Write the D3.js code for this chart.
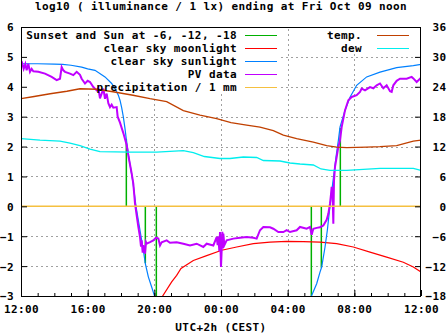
<!DOCTYPE html>
<html><head><meta charset="utf-8">
<script src="https://cdn.jsdelivr.net/npm/d3@7"></script>
<style>
html,body{margin:0;padding:0;background:#fff;}
svg{display:block;}
text{font-family:"DejaVu Sans Mono","Liberation Mono",monospace;font-weight:bold;font-size:11px;letter-spacing:0.4px;fill:#000;}
</style></head><body>
<svg id="c" width="447" height="335"></svg>
<script>
// ---------- data ----------
const title = "log10 ( illuminance / 1 lx) ending at Fri Oct 09 noon";
const xLabel = "UTC+2h (CEST)";
const hourTicks = [0, 4, 8, 12, 16, 20, 24];
const hourTickLabels = ["12:00", "16:00", "20:00", "00:00", "04:00", "08:00", "12:00"];
const leftTicks = [-3, -2, -1, 0, 1, 2, 3, 4, 5, 6];
const rightTicks = [-18, -12, -6, 0, 6, 12, 18, 24, 30, 36];

// hours after 12:00 ; sun altitude events (sunset, -6, -12, -18, -18, -12, -6, sunrise)
const sunEventHours = [6.32, 6.88, 7.46, 8.12, 17.42, 18.02, 18.56, 19.16];
const sunEventLevels = [2.25, 0.02, -1.9, -3.5, -3.5, -2.05, 0.05, 2.62];

const moonHours = [8.3, 8.5, 9.04, 9.34, 9.6, 10.34, 11.14, 12.04, 12.94, 13.94, 14.94, 15.94, 16.94, 17.94, 18.94, 19.94, 20.94, 21.94, 22.94, 23.54, 24];
const moonValues = [-3.3, -3.0, -2.53, -2.31, -2.08, -1.81, -1.65, -1.47, -1.36, -1.25, -1.2, -1.17, -1.18, -1.2, -1.25, -1.36, -1.53, -1.7, -1.87, -2.03, -2.2];

const sunHours = [0, 1, 2, 2.5, 3.0, 3.64, 4.0, 4.44, 5.04, 5.44, 5.64, 5.84, 5.94, 6.04, 6.14, 6.24, 6.34, 6.5, 6.7, 6.9, 7.14, 7.34, 7.46, 7.64, 7.84, 8.0, 8.2,
  17.3, 17.44, 17.74, 17.94, 18.04, 18.24, 18.38, 18.5, 18.58, 18.7, 18.8, 18.9, 19.04, 19.14, 19.44, 19.74, 20.14, 20.74, 21.54, 22.54, 23.54, 24];
const sunValues = [4.77, 4.77, 4.76, 4.75, 4.72, 4.66, 4.6, 4.55, 4.33, 4.11, 3.94, 3.72, 3.55, 3.3, 2.99, 2.6, 2.15, 1.54, 0.87, 0.0, -0.8, -1.47, -1.92, -2.36, -2.7, -2.98, -3.3,
  -3.3, -2.98, -2.59, -2.2, -2.03, -1.37, -0.8, -0.19, 0.2, 0.76, 1.2, 1.65, 2.2, 2.65, 3.21, 3.65, 4.05, 4.33, 4.49, 4.64, 4.71, 4.75];

const pvHours = [0.0, 0.08, 0.16, 0.26, 0.34, 0.44, 0.54, 0.64, 0.74, 1.04, 1.44, 1.84, 2.14, 2.34, 2.44, 2.54, 2.64, 2.94, 3.14, 3.34, 3.54, 3.64, 3.84, 4.0, 4.14, 4.34, 4.54, 4.64, 4.74, 4.84, 4.94, 5.04, 5.14, 5.24, 5.34, 5.44, 5.54, 5.74, 5.8, 5.94, 6.14, 6.34, 6.44, 6.54, 6.64, 6.74, 6.84, 6.94, 7.04, 7.14, 7.2, 7.24, 7.3, 7.34, 7.44, 7.5, 7.54, 7.74, 7.94, 8.1, 8.24, 8.34, 8.44, 8.74, 8.94, 9.34, 9.74, 10.14, 10.54, 10.94, 11.14, 11.54, 11.74, 11.8, 11.84, 11.9, 11.94, 11.98, 12.0, 12.04, 12.08, 12.1, 12.14, 12.2, 12.34, 12.74, 13.14, 13.54, 13.94, 14.14, 14.34, 14.54, 14.94, 15.14, 15.44, 15.74, 15.94, 16.14, 16.54, 16.74, 17.14, 17.34, 17.44, 17.54, 17.74, 17.94, 18.14, 18.34, 18.44, 18.54, 18.6, 18.64, 18.7, 18.74, 18.78, 18.84, 18.94, 19.04, 19.14, 19.24, 19.44, 19.64, 19.84, 20.14, 20.34, 20.44, 20.64, 20.94, 21.14, 21.34, 21.54, 21.74, 21.94, 22.14, 22.24, 22.34, 22.54, 22.74, 23.14, 23.44, 23.54, 23.74, 23.94, 24];
const pvValues = [4.66, 4.77, 4.6, 4.76, 4.55, 4.77, 4.5, 4.6, 4.52, 4.5, 4.44, 4.33, 4.22, 4.27, 4.66, 4.55, 4.5, 4.44, 4.39, 4.5, 4.4, 4.27, 4.11, 4.2, 4.16, 3.99, 3.88, 3.95, 3.61, 3.77, 3.94, 3.6, 3.77, 3.45, 3.32, 3.4, 3.3, 3.32, 3.0, 2.8, 2.45, 2.05, 1.7, 1.4, 1.1, 0.75, 0.1, -0.3, -0.69, -1.03, -1.35, -1.14, -1.55, -1.3, -1.58, -1.2, -1.25, -1.2, -1.14, -1.05, -1.08, -1.31, -1.2, -1.14, -1.22, -1.2, -1.25, -1.31, -1.25, -1.36, -1.25, -1.31, -1.03, -1.3, -1.0, -1.5, -0.86, -1.6, -2.03, -1.47, -0.85, -1.4, -0.91, -1.3, -1.14, -1.08, -1.05, -1.03, -1.05, -1.08, -0.8, -0.69, -0.7, -0.75, -0.86, -0.86, -0.8, -0.86, -0.8, -0.69, -0.75, -0.69, -0.95, -0.75, -0.72, -0.7, -0.64, -0.45, -0.25, 0.09, 0.4, 0.65, 0.3, -0.58, 0.87, 1.32, 1.65, 1.99, 2.21, 2.65, 3.21, 3.55, 3.66, 3.72, 3.83, 3.94, 3.88, 3.99, 3.95, 4.05, 4.11, 3.95, 4.05, 3.85, 3.83, 4.05, 4.2, 4.27, 4.27, 4.33, 4.28, 4.16, 4.27, 4.3];

const precipHours = [0, 1, 2, 3, 4, 5, 6, 7, 8, 9, 10, 11, 12, 13, 14, 15, 16, 17, 18, 19, 20, 21, 22, 23, 24];
const precipValues = [0, 0, 0, 0, 0, 0, 0, 0, 0, 0, 0, 0, 0, 0, 0, 0, 0, 0, 0, 0, 0, 0, 0, 0, 0];

// temperatures in degC (right axis)
const tempHours = [0, 0.7, 1.75, 2.75, 3.54, 4.54, 5.52, 6.72, 7.74, 8.74, 9.74, 10.74, 11.74, 12.6, 13.54, 14.34, 15.14, 15.74, 16.54, 17.54, 18.34, 18.94, 19.54, 20.74, 21.54, 22.54, 23.54, 24];
const tempValues = [21.6, 22.0, 22.6, 23.1, 23.6, 23.5, 23.0, 22.3, 21.6, 21.0, 19.2, 18.3, 17.6, 16.8, 16.3, 15.9, 15.2, 14.3, 13.6, 12.9, 12.2, 11.9, 11.8, 11.9, 12.0, 12.2, 13.1, 13.3];
const dewHours = [0, 1.14, 2.34, 2.94, 3.54, 4.14, 4.74, 6.54, 8.14, 9.74, 10.34, 11.0, 11.94, 12.54, 13.34, 14.14, 14.54, 15.54, 16.14, 16.74, 17.54, 18.0, 18.54, 19.54, 20.54, 21.54, 22.54, 23.54, 24];
const dewValues = [13.6, 13.3, 13.1, 12.7, 12.2, 11.5, 11.0, 10.9, 10.9, 11.2, 10.8, 10.0, 9.6, 9.6, 9.9, 9.8, 9.2, 9.1, 8.7, 8.5, 8.3, 7.5, 7.2, 7.2, 7.4, 7.6, 7.6, 7.6, 7.2];

const keyLeftNames = ["Sunset and Sun at -6, -12, -18", "clear sky moonlight", "clear sky sunlight", "PV data", "precipitation / 1 mm"];
const keyLeftColors = ["#00b000", "#ff0000", "#0080ff", "#c000ff", "#f5c040"];
const keyRightNames = ["temp.", "dew"];
const keyRightColors = ["#c04000", "#00eeee"];

// ---------- drawing ----------
const svg = d3.select("#c");
const L = 21, R = 421, T = 27, B = 296;
const x = d3.scaleLinear().domain([0, 24]).range([L, R]);
const y = d3.scaleLinear().domain([-3, 6]).range([B, T]);
const y2 = d3.scaleLinear().domain([-18, 36]).range([B, T]);

// key boxes where grid is not drawn
const keyBoxes = [{x0: L, x1: 281, y0: T, y1: 93}, {x0: 322, x1: R, y0: T, y1: 53}];

function segs(a, b, fixed, vertical) {
  let parts = [[a, b]];
  keyBoxes.forEach(k => {
    const inside = vertical ? (fixed >= k.x0 && fixed <= k.x1) : (fixed >= k.y0 && fixed <= k.y1);
    if (!inside) return;
    const c0 = vertical ? k.y0 : k.x0, c1 = vertical ? k.y1 : k.x1;
    const np = [];
    parts.forEach(([s, e]) => {
      if (c1 <= s || c0 >= e) { np.push([s, e]); return; }
      if (c0 > s) np.push([s, c0]);
      if (c1 < e) np.push([c1, e]);
    });
    parts = np;
  });
  return parts;
}

const grid = svg.append("g").attr("stroke", "#a0a0a0").attr("stroke-width", 1).attr("stroke-dasharray", "2,3");
hourTicks.slice(1, -1).forEach(h => {
  const px = Math.round(x(h)) + 0.5;
  segs(T, B, px, true).forEach(([s, e]) => grid.append("line").attr("x1", px).attr("x2", px).attr("y1", e).attr("y2", s));
});
leftTicks.slice(1, -1).forEach(v => {
  const py = Math.round(y(v)) + 0.5;
  segs(L, R, py, false).forEach(([s, e]) => grid.append("line").attr("y1", py).attr("y2", py).attr("x1", s).attr("x2", e));
});

svg.append("clipPath").attr("id", "clip").append("rect").attr("x", L).attr("y", T).attr("width", R - L).attr("height", B - T);
const plot = svg.append("g").attr("clip-path", "url(#clip)");

const zip = (hs, vs) => hs.map((h, i) => [h, vs[i]]);
const line1 = d3.line().x(d => x(d[0])).y(d => y(d[1]));
const line2 = d3.line().x(d => x(d[0])).y(d => y2(d[1]));

// sun events (green)
sunEventHours.forEach((h, i) => {
  plot.append("line").attr("x1", x(h)).attr("x2", x(h)).attr("y1", y(0)).attr("y2", y(sunEventLevels[i]))
    .attr("stroke", keyLeftColors[0]).attr("stroke-width", 1.5);
});
plot.append("path").attr("d", line1(zip(moonHours, moonValues))).attr("fill", "none").attr("stroke", keyLeftColors[1]).attr("stroke-width", 1.2);
plot.append("path").attr("d", line1(zip(sunHours, sunValues))).attr("fill", "none").attr("stroke", keyLeftColors[2]).attr("stroke-width", 1.2);
plot.append("path").attr("d", line1(zip(pvHours, pvValues))).attr("fill", "none").attr("stroke", keyLeftColors[3]).attr("stroke-width", 2);
plot.append("path").attr("d", line1(zip(precipHours, precipValues))).attr("fill", "none").attr("stroke", keyLeftColors[4]).attr("stroke-width", 1.5);
plot.append("path").attr("d", line2(zip(tempHours, tempValues))).attr("fill", "none").attr("stroke", keyRightColors[0]).attr("stroke-width", 1.3);
plot.append("path").attr("d", line2(zip(dewHours, dewValues))).attr("fill", "none").attr("stroke", keyRightColors[1]).attr("stroke-width", 1.3);

// border
svg.append("rect").attr("x", L + 0.5).attr("y", T + 0.5).attr("width", R - L - 1).attr("height", B - T).attr("fill", "none").attr("stroke", "#000").attr("stroke-width", 1);

// axes
const axL = svg.append("g").attr("transform", `translate(${L},0)`)
  .call(d3.axisLeft(y).tickValues(leftTicks).tickFormat(d3.format("d")).tickSize(-6).tickPadding(13));
const axR = svg.append("g").attr("transform", `translate(${R},0)`)
  .call(d3.axisRight(y2).tickValues(rightTicks).tickFormat(d3.format("d")).tickSize(-6).tickPadding(18));
const axB = svg.append("g").attr("transform", `translate(0,${B})`)
  .call(d3.axisBottom(x).tickValues(hourTicks).tickFormat((d, i) => hourTickLabels[i]).tickSize(-6).tickPadding(16));
const axBm = svg.append("g").attr("transform", `translate(0,${B})`)
  .call(d3.axisBottom(x).tickValues(d3.range(25)).tickFormat("").tickSize(-3));
[axL, axR, axB, axBm].forEach(a => {
  a.select(".domain").remove();
  a.selectAll("line").attr("stroke", "#000");
  a.selectAll("text").attr("font-family", null).attr("font-size", null).attr("fill", "#000");
  a.attr("font-family", null).attr("font-size", null);
});
axL.selectAll("text").attr("x", -7).attr("dy", "0.36em");
axR.selectAll("text").attr("text-anchor", "end").attr("dy", "0.36em").attr("x", 25.5);
axB.selectAll("text").attr("dy", 0).attr("y", 17);

// title and labels
svg.append("text").attr("x", 221).attr("y", 10).attr("text-anchor", "middle").text(title);
svg.append("text").attr("x", 221).attr("y", 331).attr("text-anchor", "middle").text(xLabel);

// key
const keyRow0 = 35, keyRowH = 13;
keyLeftNames.forEach((n, i) => {
  const yy = keyRow0 + i * keyRowH;
  svg.append("text").attr("x", 237).attr("y", yy).attr("dy", "0.36em").attr("text-anchor", "end").text(n);
  svg.append("line").attr("x1", 245).attr("x2", 277).attr("y1", yy + 0.5).attr("y2", yy + 0.5).attr("stroke", keyLeftColors[i]).attr("stroke-width", 1);
});
keyRightNames.forEach((n, i) => {
  const yy = keyRow0 + i * keyRowH;
  svg.append("text").attr("x", 362).attr("y", yy).attr("dy", "0.36em").attr("text-anchor", "end").text(n);
  svg.append("line").attr("x1", 377).attr("x2", 409).attr("y1", yy + 0.5).attr("y2", yy + 0.5).attr("stroke", keyRightColors[i]).attr("stroke-width", 1);
});
</script>
</body></html>
